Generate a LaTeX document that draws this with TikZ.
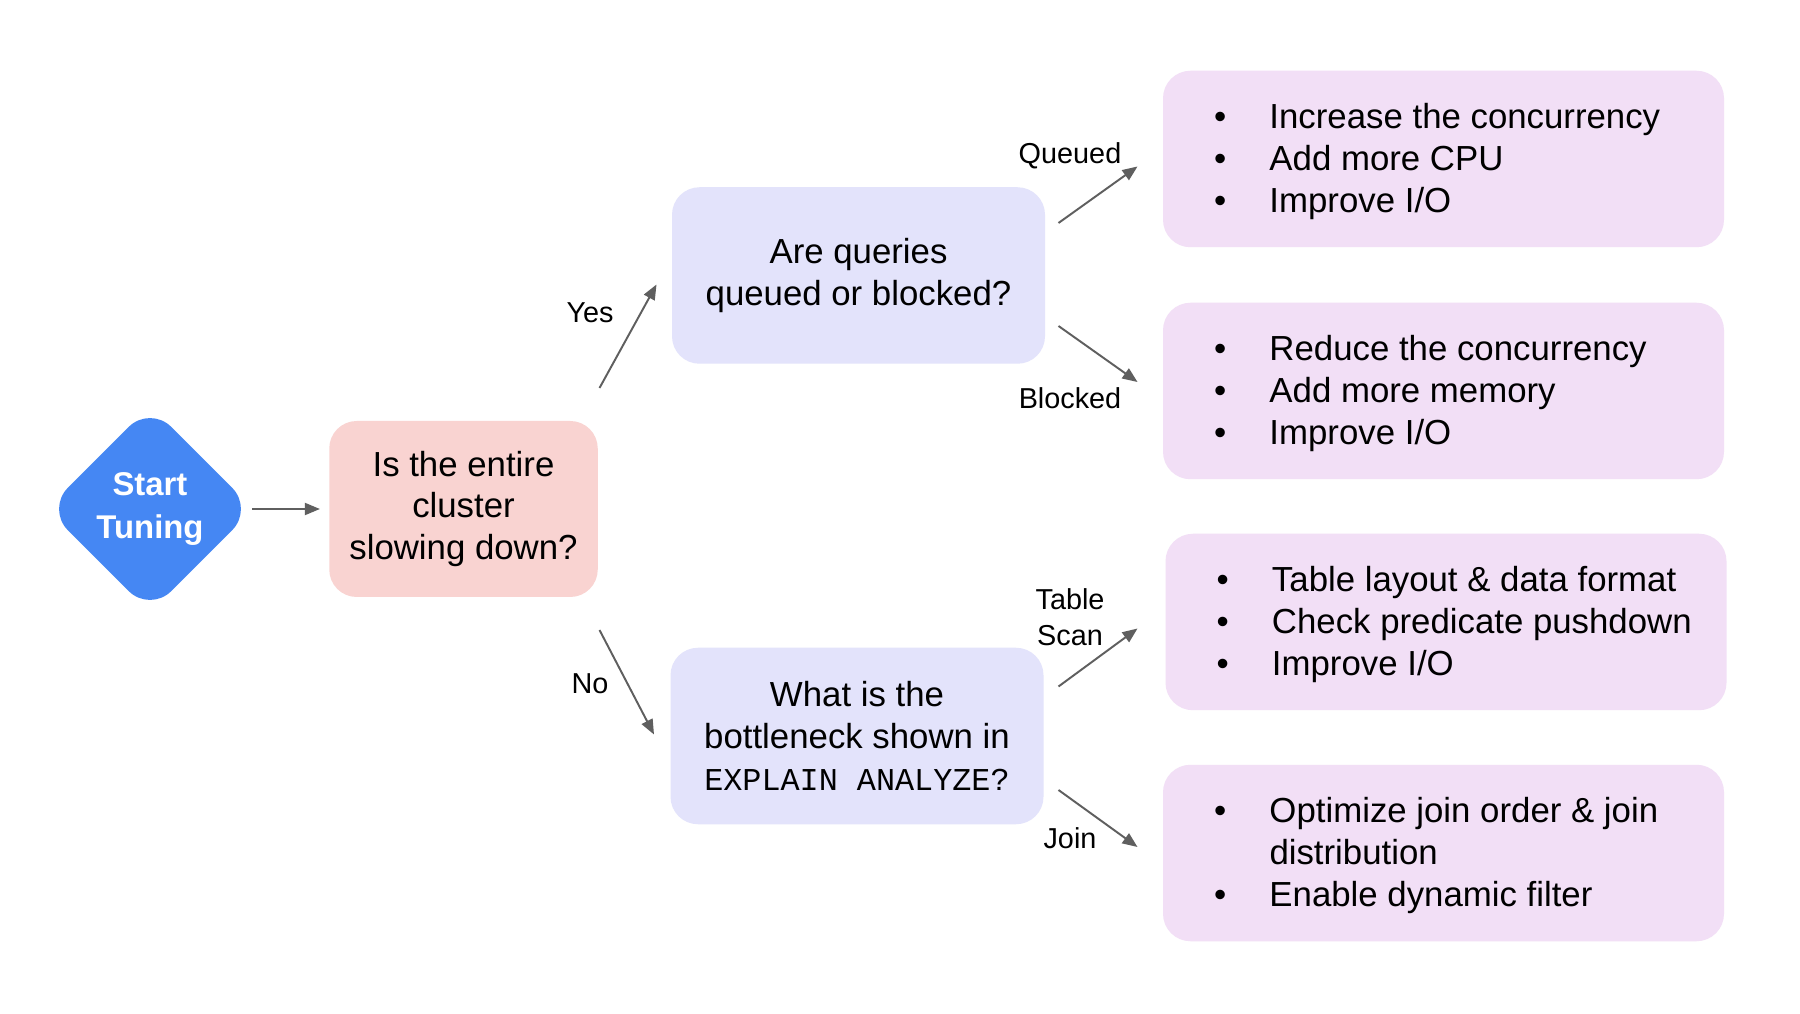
\documentclass[tikz,border=0pt]{standalone}
\usepackage{fontspec}
\setmainfont{Liberation Sans}
\setmonofont{Liberation Mono}
\usetikzlibrary{shapes.geometric,arrows.meta,positioning}

\definecolor{startblue}{HTML}{4587F3}
\definecolor{askpink}{HTML}{F9D3D1}
\definecolor{asklav}{HTML}{E3E3FB}
\definecolor{fixpurple}{HTML}{F2DFF6}
\definecolor{arrowgray}{HTML}{5F5F5F}

\newcommand{\bodyfont}{\fontsize{19.8}{23.8}\selectfont}
\newcommand{\branchfont}{\fontsize{16.4}{20.4}\selectfont}
\newcommand{\fixitems}[1]{\begin{tabular}{@{}p{1.11cm}@{}l@{}}#1\end{tabular}}

\tikzstyle{startdiam} = [diamond, fill=startblue, rounded corners=.6cm,
    minimum width=4.14cm, minimum height=4.14cm, inner sep=0pt,
    text=white, align=center, font={\bfseries\fontsize{18.7}{24.2}\selectfont}]
\tikzstyle{askfirst} = [rectangle, fill=askpink, rounded corners=.55cm,
    minimum width=5.37cm, minimum height=3.52cm, align=center, font=\bodyfont]
\tikzstyle{asknext} = [rectangle, fill=asklav, rounded corners=.55cm,
    minimum width=7.46cm, minimum height=3.53cm, align=center, font=\bodyfont]
\tikzstyle{fixbox} = [rectangle, fill=fixpurple, rounded corners=.55cm,
    minimum width=11.22cm, minimum height=3.53cm]
\tikzstyle{fixlist} = [inner sep=0pt, font=\bodyfont]
\tikzstyle{branch} = [inner sep=0pt, align=center, font=\branchfont]
\tikzstyle{flow} = [draw=arrowgray, line width=1.1pt,
    -{Triangle[length=.3cm,width=.24cm]}]

\begin{document}
\begin{tikzpicture}
	\useasboundingbox[fill=white] (0,0) rectangle (36,20.26);
	%
	\node [startdiam] (start) at (3,10.08) {Start\\Tuning};
	\node [askfirst] (cluster) at (9.27,10.08) {Is the entire\\cluster\\slowing down?};
	\node [asknext] (queue) at (17.17,14.75) {Are queries\\queued or blocked?};
	\node [asknext] (explain) at (17.14,5.54) {What is the\\bottleneck shown in\\{\ttfamily\fontsize{18.1}{23.8}\selectfont EXPLAIN ANALYZE?}};
	%
	\node [fixbox] (fixqueued) at (28.87,17.08) {};
	\node [fixbox] (fixblocked) at (28.87,12.44) {};
	\node [fixbox] (fixscan) at (28.92,7.82) {};
	\node [fixbox] (fixjoin) at (28.87,3.20) {};
	%
	\node [fixlist, right=1.02cm of fixqueued.west, yshift=-.06cm] (listqueued) {\fixitems{%
		\textbullet & Increase the concurrency\\
		\textbullet & Add more CPU\\
		\textbullet & Improve I/O}};
	\node [fixlist, right=1.02cm of fixblocked.west, yshift=-.06cm] (listblocked) {\fixitems{%
		\textbullet & Reduce the concurrency\\
		\textbullet & Add more memory\\
		\textbullet & Improve I/O}};
	\node [fixlist, right=1.02cm of fixscan.west, yshift=-.06cm] (listscan) {\fixitems{%
		\textbullet & Table layout \& data format\\
		\textbullet & Check predicate pushdown\\
		\textbullet & Improve I/O}};
	\node [fixlist, right=1.02cm of fixjoin.west, yshift=-.06cm] (listjoin) {\fixitems{%
		\textbullet & Optimize join order \& join\\
		 & distribution\\
		\textbullet & Enable dynamic filter}};
	%
	\coordinate (yesfrom) at (11.99,12.50);
	\coordinate (yesto) at (13.13,14.57);
	\coordinate (nofrom) at (11.99,7.66);
	\coordinate (noto) at (13.08,5.57);
	\coordinate (queuedfrom) at (21.17,15.80);
	\coordinate (queuedto) at (22.75,16.93);
	\coordinate (blockedfrom) at (21.17,13.74);
	\coordinate (blockedto) at (22.75,12.62);
	\coordinate (scanfrom) at (21.17,6.53);
	\coordinate (scanto) at (22.75,7.69);
	\coordinate (joinfrom) at (21.17,4.46);
	\coordinate (jointo) at (22.75,3.32);
	%
	\draw [flow, shorten <=-0.03cm, shorten >=0.18cm] (start) -- (cluster);
	\draw [flow] (yesfrom) -- (yesto);
	\draw [flow] (nofrom) -- (noto);
	\draw [flow] (queuedfrom) -- (queuedto);
	\draw [flow] (blockedfrom) -- (blockedto);
	\draw [flow] (scanfrom) -- (scanto);
	\draw [flow] (joinfrom) -- (jointo);
	%
	\node [branch] (yes) at (11.80,14.01) {Yes};
	\node [branch] (no) at (11.80,6.58) {No};
	\node [branch] (queued) at (21.40,17.14) {Queued};
	\node [branch] (blocked) at (21.40,12.29) {Blocked};
	\node [branch] (scan) at (21.40,7.92) {Table\\Scan};
	\node [branch] (join) at (21.40,3.50) {Join};
\end{tikzpicture}
\end{document}
